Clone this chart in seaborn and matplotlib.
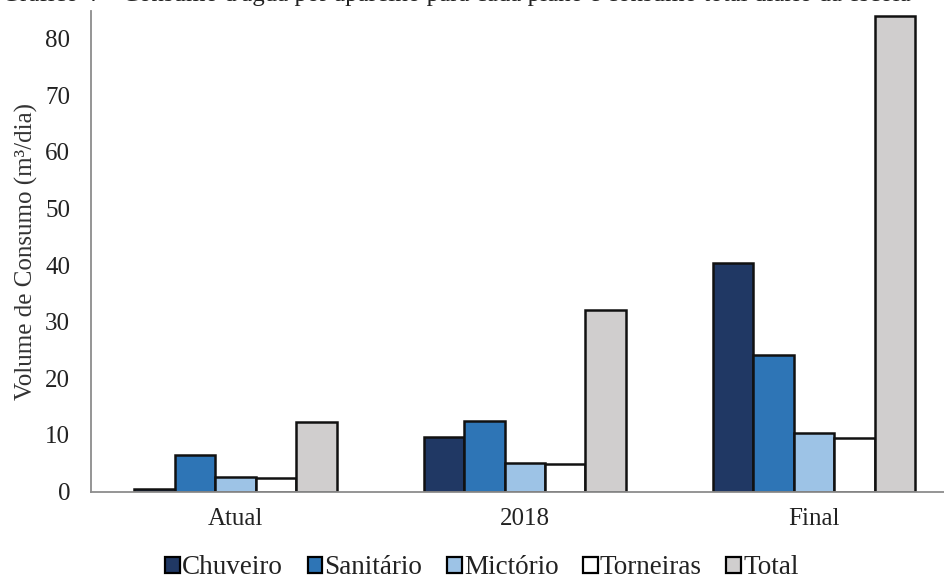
import matplotlib
matplotlib.use("Agg")
import matplotlib.pyplot as plt
from matplotlib.patches import Patch
import seaborn as sns
import pandas as pd

# Planos e aparelhos
planos = ["Atual", "2018", "Final"]
aparelhos = ["Chuveiro", "Sanitário", "Mictório", "Torneiras", "Total"]

# Consumo diário (m³/dia) por aparelho, em cada plano
chuveiro = [0.5, 9.7, 40.3]
sanitario = [6.4, 12.4, 24.1]
mictorio = [2.5, 5.1, 10.3]
torneiras = [2.3, 4.9, 9.5]
total = [12.2, 32.1, 84.1]

cores = ["#203864", "#2E75B6", "#9DC3E6", "#FFFFFF", "#D0CECE"]

valores = {
    "Chuveiro": chuveiro,
    "Sanitário": sanitario,
    "Mictório": mictorio,
    "Torneiras": torneiras,
    "Total": total,
}
linhas = []
for ap in aparelhos:
    for pl, v in zip(planos, valores[ap]):
        linhas.append({"Plano": pl, "Aparelho": ap, "Consumo": v})
df = pd.DataFrame(linhas)

sns.set_theme(style="white")
plt.rcParams["font.family"] = ["Liberation Serif", "DejaVu Serif"]

W, H = 945, 581
fig = plt.figure(figsize=(W / 100, H / 100), dpi=100)
ax = fig.add_axes([91 / W, 1 - 491.5 / H, (958.5 - 91) / W, 481 / H])

sns.barplot(
    data=df, x="Plano", y="Consumo", hue="Aparelho",
    order=planos, hue_order=aparelhos, palette=cores,
    width=0.7, gap=0, edgecolor="#111111", linewidth=1.8,
    saturation=1, legend=False, ax=ax,
)

ax.set_ylim(0, 85)
ax.set_yticks(range(0, 81, 10))
ax.set_xlim(-0.5, 2.5)
ax.set_xlabel("")
ax.set_ylabel("Volume de Consumo (m³/dia)", fontsize=18, color="#333333", labelpad=5)
ax.tick_params(axis="y", labelsize=18, colors="#222222", length=0, pad=15)
ax.tick_params(axis="x", labelsize=18, colors="#222222", length=0, pad=12)

for lado in ["top", "right"]:
    ax.spines[lado].set_visible(False)
for lado in ["left", "bottom"]:
    ax.spines[lado].set_color("#8C8C8C")
    ax.spines[lado].set_linewidth(1.3)

handles = [Patch(facecolor=c, edgecolor="black", linewidth=1.6) for c in cores]
fig.legend(
    handles, aparelhos, loc="center", bbox_to_anchor=(482 / W, 1 - 568 / H),
    ncol=5, frameon=False, fontsize=19.5, handlelength=0.55, handleheight=0.55,
    handletextpad=0.08, columnspacing=0.9, labelcolor="#222222",
    borderaxespad=0, borderpad=0,
)

# Título do gráfico, cortado na borda superior da figura
titulo = "Gráfico 4 – Consumo d'água por aparelho para cada plano e consumo total diário da escola"
prefixo = "Gráfico 4 – Consumo d'água "
fig.canvas.draw()
renderer = fig.canvas.get_renderer()
t_pref = fig.text(0, 0, prefixo, fontsize=18)
largura_pref = t_pref.get_window_extent(renderer).width
t_pref.remove()
fig.text(
    (295 - largura_pref) / W, 1 - 1.0 / H, titulo,
    fontsize=18, ha="left", va="baseline", color="#222222",
)

fig.savefig("out.png", dpi=100)
